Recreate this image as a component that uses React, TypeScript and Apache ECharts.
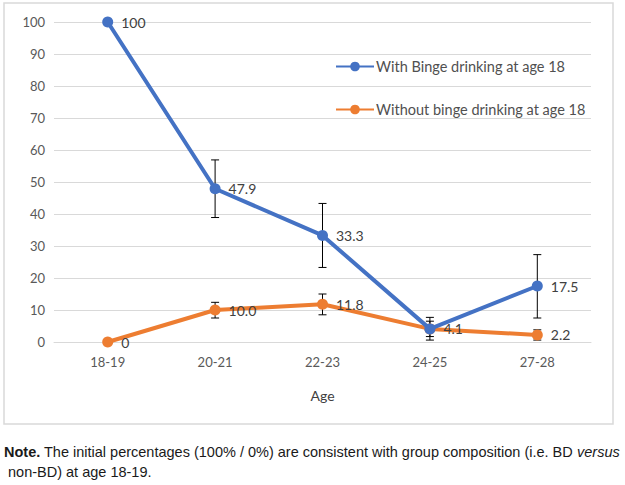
import React, { useEffect, useRef } from "react";
import * as echarts from "echarts";

const categories = ["18-19", "20-21", "22-23", "24-25", "27-28"];
const bdValues = [100, 47.9, 33.3, 4.1, 17.5];
const bdLabels = ["100", "47.9", "33.3", "", "17.5"];
const bdErrLow = [null, 38.9, 23.3, 0.6, 7.5];
const bdErrHigh = [null, 56.9, 43.3, 7.7, 27.3];
const nonValues = [0, 10.0, 11.8, 4.1, 2.2];
const nonLabels = ["0", "10.0", "11.8", "4.1", "2.2"];
const nonErrLow = [null, 7.5, 8.5, 1.7, 0.6];
const nonErrHigh = [null, 12.4, 15.0, 6.5, 3.8];
const yTicks = { min: 0, max: 100, interval: 10 };

const BLUE = "#4472C4";
const ORANGE = "#ED7D31";
const FONT = "Lato";
const NOTE_FONT = "'Liberation Sans', Arial, sans-serif";

function errData(lo: (number | null)[], hi: (number | null)[]) {
  const out: any[] = [];
  lo.forEach((l, i) => {
    if (l !== null && hi[i] !== null) out.push([i, l, hi[i]]);
  });
  return out;
}

function renderErr(params: any, api: any) {
  const x = api.value(0);
  const lo = api.coord([x, api.value(1)]);
  const hi = api.coord([x, api.value(2)]);
  const cap = 4;
  const style = { stroke: "#000", lineWidth: 1 };
  return {
    type: "group",
    children: [
      { type: "line", shape: { x1: lo[0], y1: lo[1], x2: hi[0], y2: hi[1] }, style },
      { type: "line", shape: { x1: lo[0] - cap, y1: lo[1], x2: lo[0] + cap, y2: lo[1] }, style },
      { type: "line", shape: { x1: hi[0] - cap, y1: hi[1], x2: hi[0] + cap, y2: hi[1] }, style },
    ],
  };
}

export default function App() {
  const ref = useRef<HTMLDivElement>(null);
  useEffect(() => {
    document.body.style.margin = "0";
    const chart = echarts.init(ref.current!, null, { renderer: "svg" });
    const mkLabel = (labels: string[]) => ({
      show: true,
      position: "right",
      distance: 8,
      color: "#404040",
      fontSize: 14,
      fontFamily: FONT,
      formatter: (p: any) => labels[p.dataIndex],
    });
    chart.setOption({
      animation: false,
      backgroundColor: "#fff",
      textStyle: { fontFamily: FONT },
      grid: { left: 54, right: 34, top: 22, bottom: 143 },
      legend: {
        orient: "vertical",
        left: 335,
        top: 59,
        padding: 0,
        itemGap: 28,
        itemWidth: 38,
        itemHeight: 12,
        textStyle: { color: "#505050", fontSize: 14.5, fontFamily: FONT, padding: [0, 0, 0, -3] },
        data: ["With Binge drinking at age 18", "Without binge drinking at age 18"],
      },
      xAxis: {
        type: "category",
        data: categories,
        axisTick: { show: false },
        axisLine: { lineStyle: { color: "#d9d9d9", width: 1 } },
        axisLabel: { color: "#595959", fontSize: 13, fontFamily: FONT, margin: 13 },
        name: "Age",
        nameLocation: "middle",
        nameGap: 46,
        nameTextStyle: { color: "#404040", fontSize: 14, fontFamily: FONT },
      },
      yAxis: {
        type: "value",
        min: yTicks.min,
        max: yTicks.max,
        interval: yTicks.interval,
        axisLine: { show: false },
        axisTick: { show: false },
        axisLabel: { color: "#595959", fontSize: 13, fontFamily: FONT, margin: 9 },
        splitLine: { lineStyle: { color: "#d9d9d9", width: 1 } },
      },
      series: [
        {
          type: "custom",
          name: "errBD",
          renderItem: renderErr,
          data: errData(bdErrLow, bdErrHigh),
          z: 1,
          silent: true,
        },
        {
          type: "custom",
          name: "errNon",
          renderItem: renderErr,
          data: errData(nonErrLow, nonErrHigh),
          z: 1,
          silent: true,
        },
        {
          type: "line",
          name: "With Binge drinking at age 18",
          data: bdValues,
          color: BLUE,
          lineStyle: { width: 4, color: BLUE },
          symbol: "circle",
          symbolSize: 11,
          itemStyle: { color: BLUE },
          label: mkLabel(bdLabels),
          z: 3,
        },
        {
          type: "line",
          name: "Without binge drinking at age 18",
          data: nonValues,
          color: ORANGE,
          lineStyle: { width: 4, color: ORANGE },
          symbol: "circle",
          symbolSize: 11,
          itemStyle: { color: ORANGE },
          label: mkLabel(nonLabels),
          z: 2,
        },
      ],
      graphic: [
        {
          type: "rect",
          shape: { x: 4, y: 3, width: 609, height: 421 },
          style: { fill: "none", stroke: "#d9d9d9", lineWidth: 1.5 },
          silent: true,
          z: 0,
        },
        {
          type: "text",
          x: 4,
          y: 442,
          style: {
            text: "{b|Note.} The initial percentages (100% / 0%) are consistent with group composition (i.e. BD {i|versus}\n non-BD) at age 18-19.",
            fontFamily: NOTE_FONT,
            fontSize: 14.5,
            lineHeight: 20,
            fill: "#1a1a1a",
            rich: {
              b: { fontWeight: "bold", fontFamily: NOTE_FONT, fontSize: 14.5, fill: "#1a1a1a", lineHeight: 20 },
              i: { fontStyle: "italic", fontFamily: NOTE_FONT, fontSize: 14.5, fill: "#1a1a1a", lineHeight: 20 },
            },
          },
        },
      ],
    });
    return () => chart.dispose();
  }, []);
  return <div ref={ref} style={{ width: 625, height: 485 }} />;
}
